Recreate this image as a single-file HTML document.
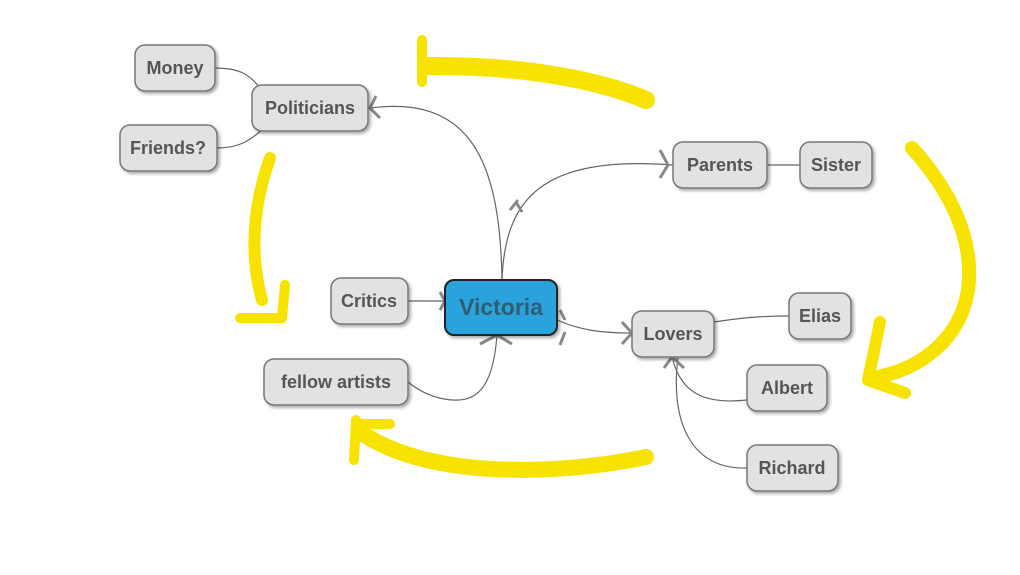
<!DOCTYPE html><html><head><style>body{margin:0;background:#fff}svg{display:block}
.n{fill:#e2e2e2;stroke:#777;stroke-width:1.5}
.t{font-family:"Liberation Sans",sans-serif;font-weight:bold;font-size:18px;fill:#555;text-anchor:middle}
.c{fill:none;stroke:#666;stroke-width:1.2}
.y{fill:none;stroke:#f7e200;stroke-linecap:round;stroke-linejoin:round}
.a{stroke:#888;stroke-width:3;fill:none}
</style></head><body>
<svg width="1020" height="575" viewBox="0 0 1020 575">
<defs><filter id="s"><feDropShadow dx="2" dy="2" stdDeviation="1.5" flood-opacity="0.35"/></filter></defs>
<!-- yellow -->
<path class="y" stroke-width="18" d="M646,100 C600,80 520,65 428,66"/>
<path class="y" stroke-width="10" d="M422,40 L422,82"/>
<path class="y" stroke-width="14" d="M912,148 C950,190 975,240 968,290 C960,340 920,370 872,378"/>
<path class="y" stroke-width="12" d="M880,322 L868,380 L905,393"/>
<path class="y" stroke-width="12" d="M270,158 C255,200 248,250 262,300"/>
<path class="y" stroke-width="10" d="M240,318 L282,318 L285,285"/>
<path class="y" stroke-width="16" d="M646,457 C560,475 430,480 360,432"/>
<path class="y" stroke-width="10" d="M356,420 L354,460 M356,424 L390,424"/>
<!-- connectors -->
<path class="c" d="M215,68 C240,68 250,75 260,88"/>
<path class="c" d="M217,148 C240,148 250,140 262,130"/>
<path class="c" d="M502,280 C500,160 470,95 370,108"/>
<path class="c" d="M502,280 C505,200 540,155 673,165"/>
<path class="c" d="M767,165 L800,165"/>
<path class="c" d="M408,301 L445,301"/>
<path class="c" d="M557,320 C580,330 600,333 632,333"/>
<path class="c" d="M408,382 C430,400 460,405 475,395 C490,385 495,360 497,335"/>
<path class="c" d="M714,322 C740,318 760,316 789,316"/>
<path class="c" d="M672,357 C680,390 700,405 747,400"/>
<path class="c" d="M678,357 C670,420 690,470 747,468"/>
<path class="a" d="M376,96 L370,108 L380,118 M660,150 L668,165 L660,178 M510,210 L518,200 M522,212 L516,202 M440,292 L445,301 L440,310 M480,344 L497,335 L512,344 M560,310 L565,320 M560,345 L565,332 M622,322 L632,333 L622,344 M664,368 L672,357 L684,368"/>
<!-- nodes -->
<g filter="url(#s)">
<rect class="n" x="135" y="45" width="80" height="46" rx="10"/>
<rect class="n" x="252" y="85" width="116" height="46" rx="10"/>
<rect class="n" x="120" y="125" width="97" height="46" rx="10"/>
<rect class="n" x="673" y="142" width="94" height="46" rx="10"/>
<rect class="n" x="800" y="142" width="72" height="46" rx="10"/>
<rect class="n" x="331" y="278" width="77" height="46" rx="10"/>
<rect x="445" y="280" width="112" height="55" rx="9" fill="#2aa3dc" stroke="#222" stroke-width="2"/>
<rect class="n" x="264" y="359" width="144" height="46" rx="10"/>
<rect class="n" x="632" y="311" width="82" height="46" rx="10"/>
<rect class="n" x="789" y="293" width="62" height="46" rx="10"/>
<rect class="n" x="747" y="365" width="80" height="46" rx="10"/>
<rect class="n" x="747" y="445" width="91" height="46" rx="10"/>
</g>
<text class="t" x="175" y="74">Money</text>
<text class="t" x="310" y="114">Politicians</text>
<text class="t" x="168" y="154">Friends?</text>
<text class="t" x="720" y="171">Parents</text>
<text class="t" x="836" y="171">Sister</text>
<text class="t" x="369" y="307">Critics</text>
<text class="t" x="501" y="315" style="font-size:23px;fill:#2f5d73">Victoria</text>
<text class="t" x="336" y="388">fellow artists</text>
<text class="t" x="673" y="340">Lovers</text>
<text class="t" x="820" y="322">Elias</text>
<text class="t" x="787" y="394">Albert</text>
<text class="t" x="792" y="474">Richard</text>
</svg></body></html>
